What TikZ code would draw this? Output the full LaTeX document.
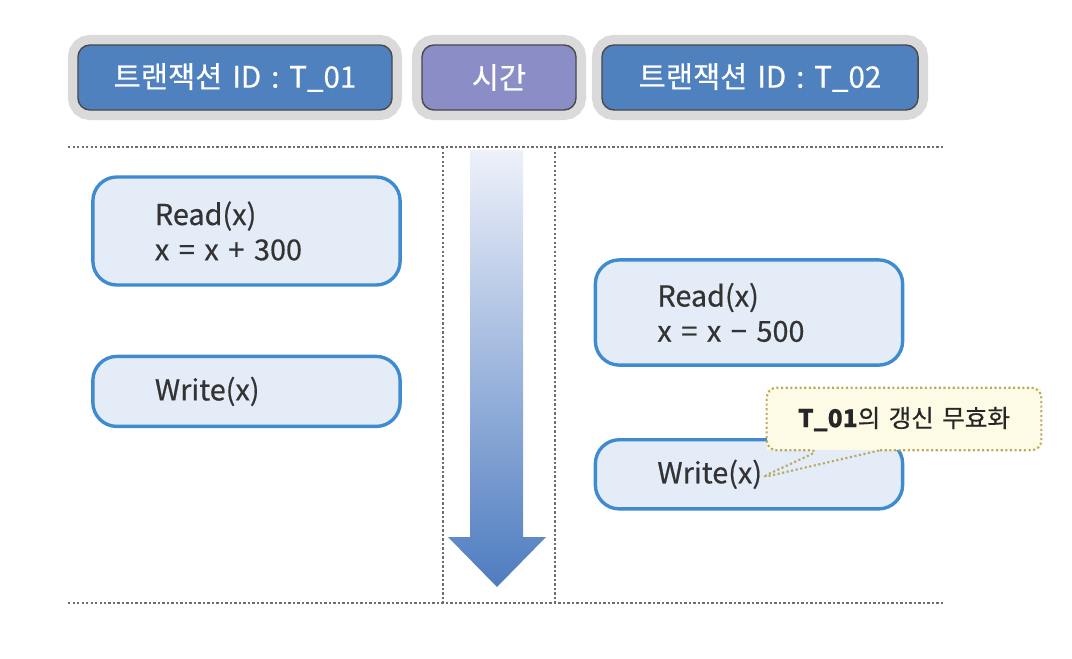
\documentclass[tikz,border=0pt]{standalone}
\usepackage{fontspec}
\setmainfont[WordSpace=1.5, FakeBold=0.5]{Noto Sans CJK KR}
\usetikzlibrary{positioning}
\definecolor{hdrblue}{HTML}{4F81BF}
\definecolor{hdrpurple}{HTML}{8B8DC6}
\definecolor{hdrline}{HTML}{4A4A4A}
\definecolor{halo}{HTML}{DADADA}
\definecolor{boxfill}{HTML}{E3ECF7}
\definecolor{boxline}{HTML}{3F8BD0}
\definecolor{txtgray}{HTML}{333333}
\definecolor{notefill}{HTML}{FDFBE5}
\definecolor{noteline}{HTML}{BDA95E}
\definecolor{dotline}{HTML}{6E6E6E}
\definecolor{arrowtop}{HTML}{EEF1FA}
\definecolor{arrowbot}{HTML}{4E7CC0}

\begin{document}
\begin{tikzpicture}[
    x=0.025cm, y=-0.025cm,
    header/.style={draw=hdrline, line width=1pt, rounded corners=0.3cm, minimum height=1.625cm, font=\fontsize{21}{25}\selectfont, text=white, align=center,
        preaction={draw=halo, line width=0.5cm}},
    opbox/.style={draw=boxline, line width=2.4pt, fill=boxfill, rounded corners=0.6cm, minimum width=7.68cm, text width=4.58cm, inner xsep=1.55cm, align=left,
        font=\fontsize{20.5}{25}\selectfont, text=txtgray},
    note/.style={fill=notefill, minimum width=6.85cm, minimum height=1.55cm, font=\fontsize{17.5}{20}\selectfont, text=black!85},
    noteborder/.style={draw=noteline, line width=1.5pt, dash pattern=on 1.5pt off 1.8pt, rounded corners=0.25cm},
    sepline/.style={draw=dotline, line width=1pt, dash pattern=on 1.6pt off 1.6pt},
]
    \useasboundingbox (0,0) rectangle (1072,658);

    % Headers
    \node[header, fill=hdrblue, minimum width=7.85cm] (hdr1) at (235,77.5) {트랜잭션 ID : T\_01};
    \node[header, fill=hdrpurple, minimum width=3.85cm] (hdrtime) at (499,77.5) {시간};
    \node[header, fill=hdrblue, minimum width=7.9cm] (hdr2) at (760,77.5) {트랜잭션 ID : T\_02};

    % Separators
    \draw[sepline] (68,147) -- (945,147);
    \draw[sepline] (68,603) -- (945,603);
    \draw[sepline] (443,147) -- (443,603);
    \draw[sepline] (555,147) -- (555,603);

    % Time arrow
    \shade[top color=arrowtop, bottom color=arrowbot] (470,150) -- (523,150) -- (523,537) -- (546,537)
        -- (497,587) -- (448,537) -- (470,537) -- cycle;

    % Transaction T_01
    \node[opbox, minimum height=2.7cm] (rd1) at (246.5,231) {Read(x)\\x = x + 300};
    \node[opbox, minimum height=1.75cm, below=1.7cm of rd1] (wr1) {Write(x)};

    % Transaction T_02
    \node[opbox, minimum height=2.63cm] (rd2) at (749,312.5) {Read(x)\\x = x − 500};
    \node[opbox, minimum height=1.73cm, below=1.78cm of rd2] (wr2) {Write(x)};

    % Note
    \node[note] (lost) at (904,419) {\textbf{T\_01}의 갱신 무효화};
    \coordinate (tip) at (760,478);
    \draw[noteborder] ([xshift=-0.6cm]lost.south) -| (lost.east) |- (lost.north) -| (lost.west)
        |- ([xshift=-2.1cm]lost.south) -- (tip) -- ([xshift=-0.6cm]lost.south);
\end{tikzpicture}
\end{document}
